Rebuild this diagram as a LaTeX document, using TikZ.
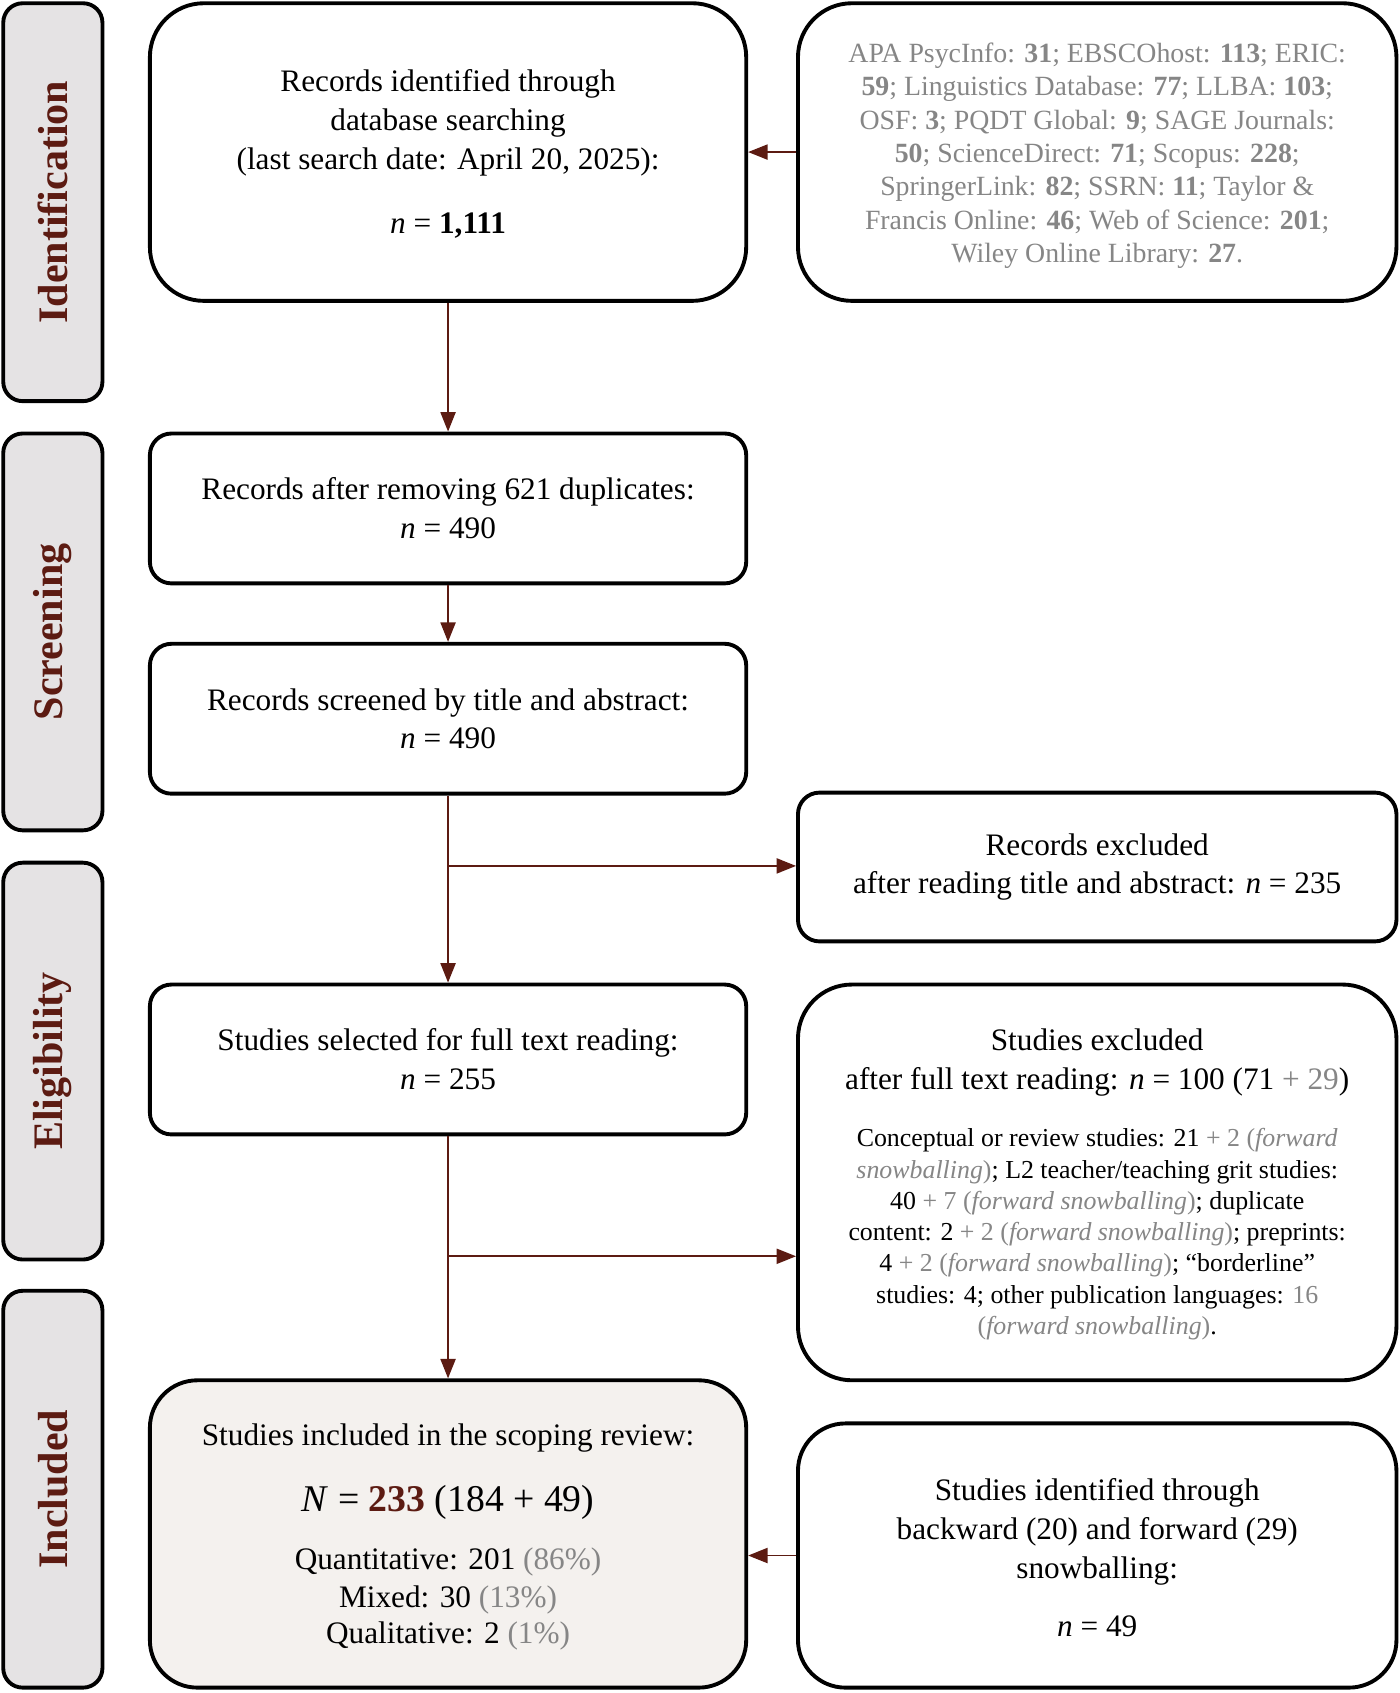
\documentclass[tikz,border=0pt]{standalone}
\usepackage{fontspec}
\setmainfont{Liberation Serif}
\usetikzlibrary{arrows.meta}
\definecolor{maroon}{HTML}{5C1B12}
\definecolor{txtgray}{HTML}{868686}
\definecolor{sidefill}{HTML}{E5E3E4}
\definecolor{inclfill}{HTML}{F4F1EE}
\newcommand\gr[1]{\textcolor{txtgray}{#1}}
\newcommand\mainfs{\fontsize{14.5}{18}\selectfont}
\newcommand\smallfs{\fontsize{12}{14.5}\selectfont}
\newcommand\dbfs{\fontsize{12.9}{15.5}\selectfont}
\begin{document}
\begin{tikzpicture}[x=0.5pt,y=-0.5pt,
  box/.style={draw=black, line width=1.8pt, rounded corners=#1, align=center, inner sep=0pt, font=\mainfs, fill=white},
  box/.default=10pt,
  side/.style={draw=black, line width=1.8pt, rounded corners=9pt, fill=sidefill, rotate=90,
    minimum width=184pt, minimum height=46pt, inner sep=0pt,
    font=\fontsize{19.5}{22}\selectfont\bfseries, text=maroon},
  arr/.style={draw=maroon, line width=0.8pt, -{Triangle[length=9pt,width=7pt]}},
]
\useasboundingbox (0,0) rectangle (1298,1570);

% phase labels
\node[side, minimum width=184.5pt] (s1) at (49,187.5) {Identification};
\node[side] (s2) at (49,586) {Screening};
\node[side] (s3) at (49,984) {Eligibility};
\node[side] (s4) at (49,1381) {Included};

% main column
\node[box=25pt, minimum width=276.5pt, minimum height=138pt] (b1) at (415.5,141)
  {\rule{0pt}{12pt}Records identified through\\ database searching\\ (last search date: April 20, 2025):\\[11.5pt] \textit{n} = \textbf{1,111}};
\node[box, minimum width=276.5pt, minimum height=69.5pt] (b2) at (415.5,471.5)
  {Records after removing 621 duplicates:\\ \textit{n} = 490};
\node[box, minimum width=276.5pt, minimum height=69.5pt] (b3) at (415.5,666.5)
  {Records screened by title and abstract:\\ \textit{n} = 490};
\node[box, minimum width=276.5pt, minimum height=69.5pt] (b4) at (415.5,982.5)
  {Studies selected for full text reading:\\ \textit{n} = 255};
\node[box=22pt, fill=inclfill, minimum width=276.5pt, minimum height=142.5pt] (b5) at (415.5,1422.5)
  {\rule{0pt}{13pt}Studies included in the scoping review:\\[12.5pt]
   {\fontsize{17.5}{21}\selectfont\textit{N} = \textbf{\textcolor{maroon}{233}} (184 + 49)}\\[9pt]
   Quantitative: 201 \gr{(86\%)}\\[-0.5pt]
   Mixed: 30 \gr{(13\%)}\\[-1.5pt]
   Qualitative: 2 \gr{(1\%)}};

% right column
\node[box=25pt, minimum width=277.5pt, minimum height=138pt, font=\dbfs, text=txtgray] (r1) at (1017.5,141)
  {\rule{0pt}{12.5pt}APA PsycInfo: \textbf{31}; EBSCOhost: \textbf{113}; ERIC:\\
   \textbf{59}; Linguistics Database: \textbf{77}; LLBA: \textbf{103};\\
   OSF: \textbf{3}; PQDT Global: \textbf{9}; SAGE Journals:\\
   \textbf{50}; ScienceDirect: \textbf{71}; Scopus: \textbf{228};\\
   SpringerLink: \textbf{82}; SSRN: \textbf{11}; Taylor \&\\
   Francis Online: \textbf{46}; Web of Science: \textbf{201};\\
   Wiley Online Library: \textbf{27}.};
\node[box, minimum width=277.5pt, minimum height=69pt] (r2) at (1017.5,804)
  {Records excluded\\ after reading title and abstract: \textit{n} = 235};
\node[box=25pt, align=flush center, minimum width=277.5pt, minimum height=183.5pt, text width=272pt] (r3) at (1017.5,1096.5)
  {{\mainfs\rule{0pt}{12pt}Studies excluded\\ after full text reading: \textit{n} = 100 (71 \gr{+ 29})\par}\vspace{12pt}
   {\smallfs Conceptual or review studies: 21 \gr{+ 2 (\textit{forward}}\\
   \gr{\textit{snowballing})}; L2 teacher/teaching grit studies:\\
   40 \gr{+ 7 (\textit{forward snowballing})}; duplicate\\
   content: 2 \gr{+ 2 (\textit{forward snowballing})}; preprints:\\
   4 \gr{+ 2 (\textit{forward snowballing})}; “borderline”\\
   studies: 4; other publication languages: \gr{16}\\
   \gr{(\textit{forward snowballing})}.\par}};
\node[box=22pt, minimum width=277.5pt, minimum height=122.5pt] (r4) at (1017.5,1442.5)
  {\rule{0pt}{12pt}Studies identified through\\ backward (20) and forward (29)\\ snowballing:\\[9pt] \textit{n} = 49};

% connectors
\draw[arr] (b1) -- (b2);
\draw[arr] (b2) -- (b3);
\draw[arr] (b3) -- (b4);
\coordinate (j1) at (415.5,803);
\draw[arr] (j1) -- (j1 -| r2.west);
\draw[arr] (b4) -- (b5);
\coordinate (j2) at (415.5,1165);
\draw[arr] (j2) -- (j2 -| r3.west);
\draw[arr] (r1) -- (b1);
\draw[arr] (r4.west) -- (r4.west -| b5.east);
\end{tikzpicture}
\end{document}
